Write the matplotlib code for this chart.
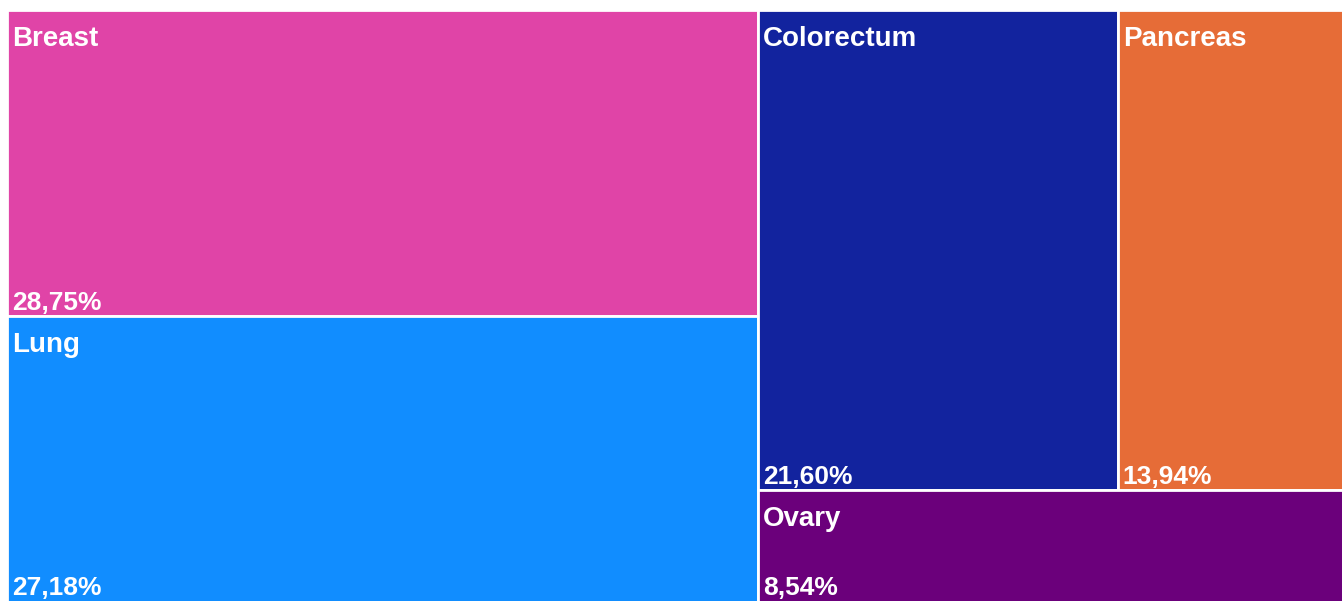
import matplotlib
matplotlib.use("Agg")
import matplotlib.pyplot as plt
from matplotlib.patches import Rectangle

# cancer share values (percent)
labels = ["Breast", "Lung", "Colorectum", "Pancreas", "Ovary"]
values = [28.75, 27.18, 21.60, 13.94, 8.54]
colors = ["#E044A7", "#118DFF", "#12239E", "#E66C37", "#6B007B"]

# layout of the treemap area in pixels (it runs past the cropped canvas)
X0, Y0, W, H = 7, 10, 1343, 595
FIG_W, FIG_H = 1342, 601


def layout(vals):
    """Left column: first two stacked; right: two side by side over the last."""
    total = sum(vals)
    rects = []
    left_w = W * (vals[0] + vals[1]) / total
    h0 = H * vals[0] / (vals[0] + vals[1])
    rects.append((X0, Y0, left_w, h0))
    rects.append((X0, Y0 + h0, left_w, H - h0))
    rx = X0 + left_w
    rw = W - left_w
    top_sum = vals[2] + vals[3]
    top_h = H * top_sum / (top_sum + vals[4])
    w2 = rw * vals[2] / top_sum
    rects.append((rx, Y0, w2, top_h))
    rects.append((rx + w2, Y0, rw - w2, top_h))
    rects.append((rx, Y0 + top_h, rw, H - top_h))
    return rects


fig = plt.figure(figsize=(FIG_W / 100, FIG_H / 100), dpi=100)
ax = fig.add_axes([0, 0, 1, 1])
ax.set_xlim(0, FIG_W)
ax.set_ylim(FIG_H, 0)
ax.axis("off")

for (x, y, w, h), name, val, c in zip(layout(values), labels, values, colors):
    ax.add_patch(Rectangle((x, y), w, h, facecolor=c, edgecolor="white", linewidth=2))
    ax.text(x + 5, y + 16, name, color="white", fontsize=20, fontweight="bold",
            family="Liberation Sans", va="top", ha="left")
    pct = f"{val:.2f}%".replace(".", ",")
    # keep the bottom labels inside the canvas
    base = min(y + h - 6, FIG_H - 6)
    ax.text(x + 5, base, pct, color="white", fontsize=19, fontweight="bold",
            family="Liberation Sans", va="baseline", ha="left")

fig.savefig("out.png", dpi=100)
